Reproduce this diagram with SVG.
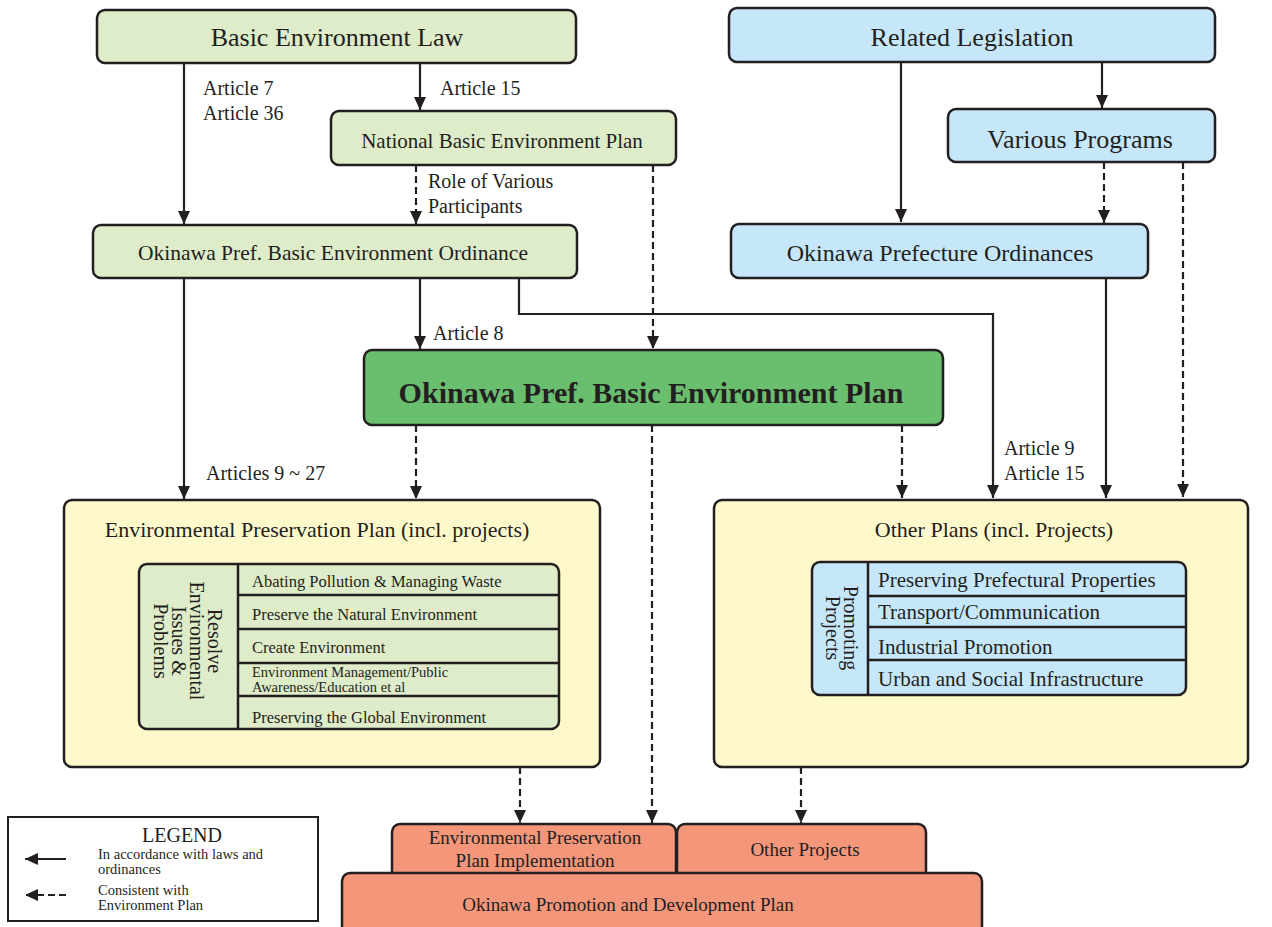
<svg xmlns="http://www.w3.org/2000/svg" width="1272" height="927" viewBox="0 0 1272 927">
<style>
text{font-family:"Liberation Serif","Times New Roman",serif;fill:#231f20}
.box{stroke:#231f20;stroke-width:2.5}
.g{fill:#dfecc9}.b{fill:#c6e7f9}.m{fill:#6abf6f}.y{fill:#fef9cb}.s{fill:#f4967a}
.c{text-anchor:middle}
.ln{fill:none;stroke:#231f20;stroke-width:2.2}
.d{stroke-dasharray:7 4}
.sep{stroke:#231f20;stroke-width:2.5}
</style>
<defs>
<marker id="ah" markerUnits="userSpaceOnUse" markerWidth="12" markerHeight="12" refX="13" refY="6" orient="auto">
<path d="M0,0 L13,6 L0,12 z" fill="#231f20"/>
</marker>
</defs>
<rect width="1272" height="927" fill="#ffffff"/>

<g id="connectors">
<line class="ln" x1="184" y1="63" x2="184" y2="224" marker-end="url(#ah)"/>
<line class="ln" x1="420" y1="63" x2="420" y2="110" marker-end="url(#ah)"/>
<line class="ln d" x1="416" y1="165" x2="416" y2="224" marker-end="url(#ah)"/>
<line class="ln d" x1="653" y1="165" x2="653" y2="349" marker-end="url(#ah)"/>
<line class="ln" x1="901" y1="62" x2="901" y2="222" marker-end="url(#ah)"/>
<line class="ln" x1="1102" y1="62" x2="1102" y2="108" marker-end="url(#ah)"/>
<line class="ln d" x1="1104" y1="162" x2="1104" y2="223" marker-end="url(#ah)"/>
<line class="ln d" x1="1183" y1="162" x2="1183" y2="497" marker-end="url(#ah)"/>
<line class="ln" x1="184" y1="278" x2="184" y2="499" marker-end="url(#ah)"/>
<line class="ln" x1="420" y1="278" x2="420" y2="349" marker-end="url(#ah)"/>
<polyline class="ln" points="519,278 519,314 993,314 993,498" marker-end="url(#ah)"/>
<line class="ln" x1="1106" y1="278" x2="1106" y2="498" marker-end="url(#ah)"/>
<line class="ln d" x1="416" y1="425" x2="416" y2="499" marker-end="url(#ah)"/>
<line class="ln d" x1="652" y1="425" x2="652" y2="823" marker-end="url(#ah)"/>
<line class="ln d" x1="902" y1="425" x2="902" y2="498" marker-end="url(#ah)"/>
<line class="ln d" x1="520" y1="767" x2="520" y2="823" marker-end="url(#ah)"/>
<line class="ln d" x1="801" y1="767" x2="801" y2="823" marker-end="url(#ah)"/>
<g font-size="20">
<text x="203" y="95">Article 7</text>
<text x="203" y="120">Article 36</text>
<text x="440" y="95">Article 15</text>
<text x="428" y="188">Role of Various</text>
<text x="428" y="213">Participants</text>
<text x="433" y="340">Article 8</text>
<text x="206" y="480">Articles 9 ~ 27</text>
<text x="1004" y="455">Article 9</text>
<text x="1004" y="480">Article 15</text>
</g>
</g>

<g id="basic-environment-law">
<rect class="box g" x="97" y="10" width="479" height="53" rx="8"/>
<text class="c" x="337" y="46" font-size="26">Basic Environment Law</text>
</g>
<g id="related-legislation">
<rect class="box b" x="729" y="8" width="486" height="54" rx="8"/>
<text class="c" x="972" y="46" font-size="26">Related Legislation</text>
</g>
<g id="national-plan">
<rect class="box g" x="331" y="111" width="345" height="54" rx="8"/>
<text class="c" x="502" y="148" font-size="21">National Basic Environment Plan</text>
</g>
<g id="various-programs">
<rect class="box b" x="948" y="109" width="267" height="53" rx="8"/>
<text class="c" x="1080" y="148" font-size="26">Various Programs</text>
</g>
<g id="ordinance">
<rect class="box g" x="93" y="225" width="484" height="53" rx="8"/>
<text class="c" x="333" y="260" font-size="21.5">Okinawa Pref. Basic Environment Ordinance</text>
</g>
<g id="prefecture-ordinances">
<rect class="box b" x="731" y="224" width="417" height="54" rx="8"/>
<text class="c" x="940" y="261" font-size="24">Okinawa Prefecture Ordinances</text>
</g>
<g id="main-plan">
<rect class="box m" x="364" y="350" width="579" height="75" rx="8"/>
<text class="c" x="651" y="403" font-size="30" font-weight="bold">Okinawa Pref. Basic Environment Plan</text>
</g>

<g id="environmental-preservation-plan">
<rect class="box y" x="64" y="500" width="536" height="267" rx="8"/>
<text class="c" x="317" y="537" font-size="22">Environmental Preservation Plan (incl. projects)</text>
<rect class="box g" x="139" y="564" width="420" height="165" rx="8"/>
<line class="sep" x1="238" y1="564" x2="238" y2="729"/>
<line class="sep" x1="238" y1="595" x2="559" y2="595"/>
<line class="sep" x1="238" y1="629" x2="559" y2="629"/>
<line class="sep" x1="238" y1="663" x2="559" y2="663"/>
<line class="sep" x1="238" y1="696" x2="559" y2="696"/>
<g font-size="20" class="c">
<text x="208" y="641" transform="rotate(90 208 641)">Resolve</text>
<text x="190" y="641" transform="rotate(90 190 641)">Environmental</text>
<text x="172" y="641" transform="rotate(90 172 641)">Issues &amp;</text>
<text x="154" y="641" transform="rotate(90 154 641)">Problems</text>
</g>
<g font-size="16.5">
<text x="252" y="587">Abating Pollution &amp; Managing Waste</text>
<text x="252" y="620">Preserve the Natural Environment</text>
<text x="252" y="653">Create Environment</text>
<text x="252" y="723">Preserving the Global Environment</text>
</g>
<g font-size="14.5">
<text x="252" y="677">Environment Management/Public</text>
<text x="252" y="692">Awareness/Education et al</text>
</g>
</g>

<g id="other-plans">
<rect class="box y" x="714" y="500" width="534" height="267" rx="8"/>
<text class="c" x="994" y="537" font-size="22">Other Plans (incl. Projects)</text>
<rect class="box b" x="812" y="562" width="374" height="133" rx="8"/>
<line class="sep" x1="868" y1="562" x2="868" y2="695"/>
<line class="sep" x1="868" y1="596" x2="1186" y2="596"/>
<line class="sep" x1="868" y1="627" x2="1186" y2="627"/>
<line class="sep" x1="868" y1="660" x2="1186" y2="660"/>
<g font-size="20" class="c">
<text x="844" y="628" transform="rotate(90 844 628)">Promoting</text>
<text x="826" y="628" transform="rotate(90 826 628)">Projects</text>
</g>
<g font-size="21">
<text x="878" y="587">Preserving Prefectural Properties</text>
<text x="878" y="619">Transport/Communication</text>
<text x="878" y="654">Industrial Promotion</text>
<text x="878" y="686">Urban and Social Infrastructure</text>
</g>
</g>

<g id="epp-implementation">
<rect class="box s" x="392" y="824" width="284" height="60" rx="8"/>
<text class="c" x="535" y="844" font-size="19">Environmental Preservation</text>
<text class="c" x="535" y="867" font-size="19">Plan Implementation</text>
</g>
<g id="other-projects">
<rect class="box s" x="677" y="824" width="249" height="60" rx="8"/>
<text class="c" x="805" y="856" font-size="19">Other Projects</text>
</g>
<g id="promotion-plan">
<rect class="box s" x="342" y="873" width="640" height="70" rx="8"/>
<text class="c" x="628" y="911" font-size="19">Okinawa Promotion and Development Plan</text>
</g>

<g id="legend">
<rect x="8" y="817" width="310" height="104" fill="#ffffff" stroke="#231f20" stroke-width="2"/>
<text class="c" x="182" y="842" font-size="20">LEGEND</text>
<line class="ln" x1="66" y1="859" x2="25" y2="859" marker-end="url(#ah)"/>
<line class="ln d" x1="66" y1="895" x2="25" y2="895" marker-end="url(#ah)"/>
<g font-size="14.5">
<text x="98" y="859">In accordance with laws and</text>
<text x="98" y="874">ordinances</text>
<text x="98" y="895">Consistent with</text>
<text x="98" y="910">Environment Plan</text>
</g>
</g>
</svg>
